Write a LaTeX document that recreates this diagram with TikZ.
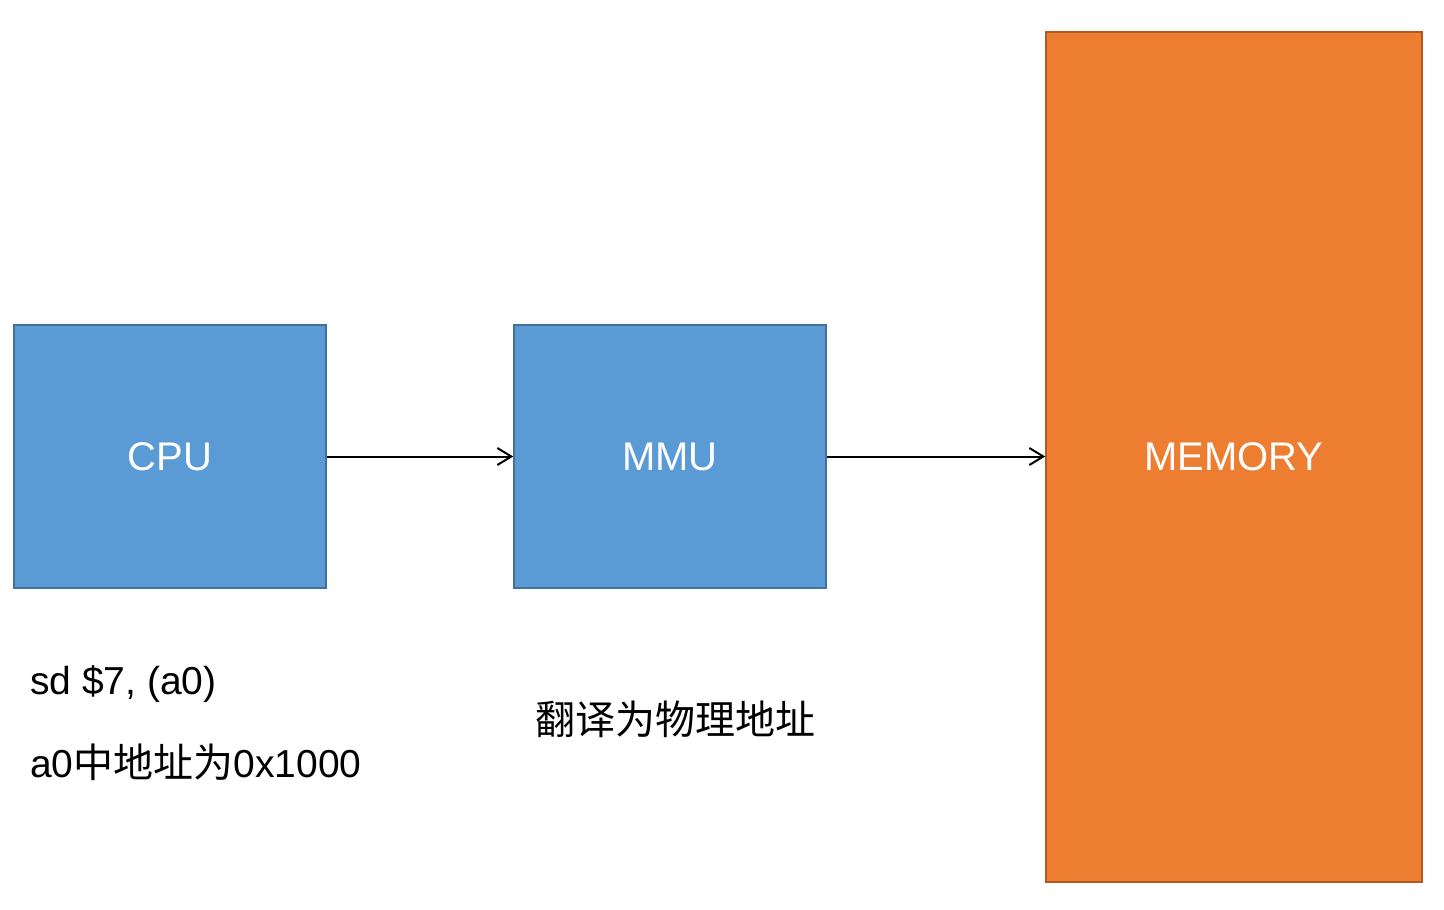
\documentclass[tikz,border=0pt]{standalone}
\usepackage{fontspec}
\setmainfont{Liberation Sans}
\newfontfamily\cjk{Noto Sans CJK SC}
\usetikzlibrary{arrows.meta}
\definecolor{bluefill}{HTML}{5B9BD5}
\definecolor{blueline}{HTML}{41719C}
\definecolor{orangefill}{HTML}{ED7D31}
\definecolor{orangeline}{HTML}{AE5A21}
\tikzset{
  blk/.style={draw=blueline, fill=bluefill, line width=1.5pt, inner sep=0pt, text=white,
    font=\fontsize{40}{46}\selectfont},
  mem/.style={draw=orangeline, fill=orangefill, line width=1.5pt, inner sep=0pt, text=white,
    font=\fontsize{40}{46}\selectfont},
  conn/.style={line width=2pt, -{Straight Barb[length=14pt,width=17pt,line width=2pt]}},
  lbl/.style={inner sep=0pt, anchor=base west, font=\fontsize{39}{46}\selectfont},
}
\begin{document}
\begin{tikzpicture}[x=1pt,y=-1pt]
\useasboundingbox (0,0) rectangle (1444,910);
\node[blk, minimum width=312pt, minimum height=263pt] (cpu) at (170,456.5) {CPU};
\node[blk, minimum width=312pt, minimum height=263pt] (mmu) at (670,456.5) {MMU};
\node[mem, minimum width=376pt, minimum height=850pt] (memory) at (1234,457) {MEMORY};
\draw[conn] (cpu.east) -- (mmu.west);
\draw[conn] (mmu.east) -- (mmu.east -| memory.west);
\node[lbl] (instr) at (30,694) {sd \$7, (a0)};
\node[lbl] (addr) at (30,777) {a0{\cjk\fontsize{40}{46}\selectfont 中地址为}0x1000};
\node[lbl, font=\fontsize{40}{46}\selectfont\cjk] (trans) at (535,734) {翻译为物理地址};
\end{tikzpicture}
\end{document}
